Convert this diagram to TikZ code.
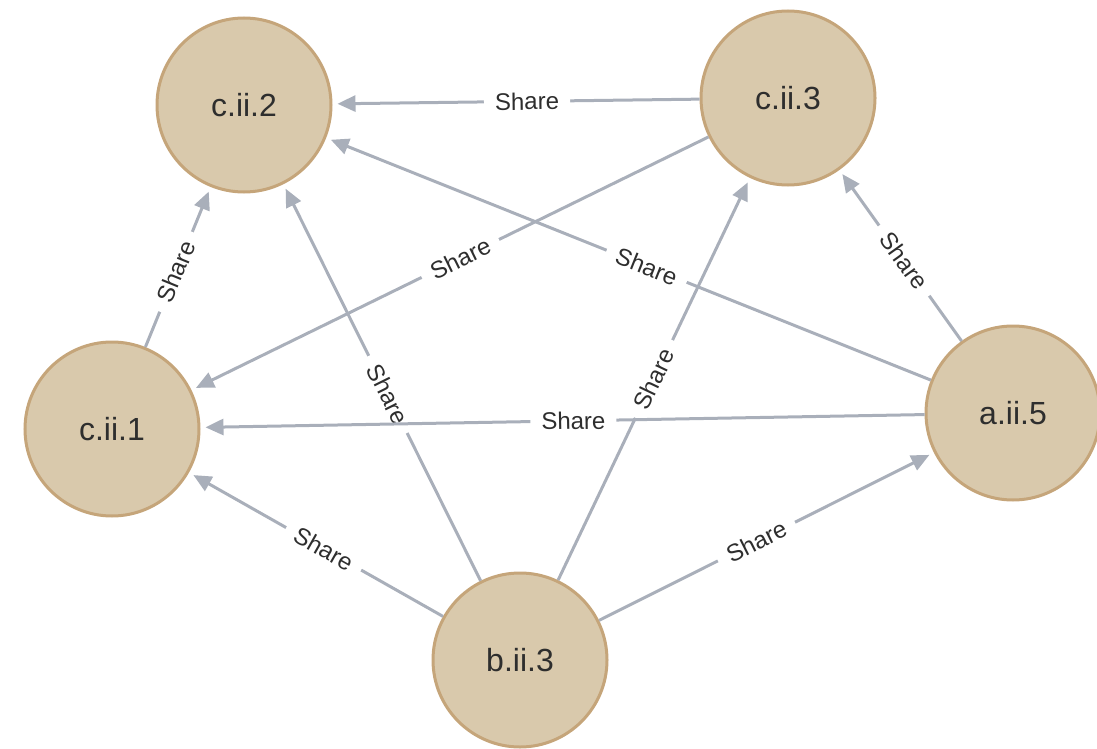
\documentclass[tikz,border=0pt]{standalone}
\usepackage{fontspec}
\setmainfont{Liberation Sans}
\usetikzlibrary{arrows.meta}
\definecolor{nodefill}{HTML}{D9C9AC}
\definecolor{nodeline}{HTML}{C5A57A}
\definecolor{edgecol}{HTML}{A9AFBA}
\definecolor{textcol}{HTML}{2E2E2E}
\begin{document}
\begin{tikzpicture}[x=1pt,y=-1pt,
  person/.style={circle, minimum size=174pt, inner sep=0pt, fill=nodefill,
    draw=nodeline, line width=3pt, text=textcol,
    font=\fontsize{32}{32}\selectfont},
  share/.style={-{Triangle[length=18pt,width=16pt]}, draw=edgecol,
    line width=3pt, shorten >=5pt},
  lbl/.style={fill=white, text=textcol, font=\fontsize{24}{24}\selectfont,
    inner xsep=11pt, inner ysep=1pt, sloped, pos=0.47}
]
\useasboundingbox (0,0) rectangle (1097,749);

% people
\node[person] (c2) at (244,105) {c.ii.2};
\node[person] (c3) at (788,98) {c.ii.3};
\node[person] (c1) at (112,429) {c.ii.1};
\node[person] (a5) at (1013,413) {a.ii.5};
\node[person] (b3) at (520,660) {b.ii.3};

% shares
\draw[share] (c3) -- node[lbl] {Share} (c2);
\draw[share] (c3) -- node[lbl, pos=0.48] {Share} (c1);
\draw[share] (a5) -- node[lbl] {Share} (c2);
\draw[share] (a5) -- node[lbl] {Share} (c3);
\draw[share] (c1) -- node[lbl] {Share} (c2);
\draw[share] (b3) -- node[lbl] {Share} (c2);
\draw[share] (b3) -- node[lbl, pos=0.5] {Share} (c3);
\draw[share] (a5) -- node[lbl, pos=0.485] {Share} (c1);
\draw[share] (b3) -- node[lbl] {Share} (c1);
\draw[share] (b3) -- node[lbl] {Share} (a5);
\end{tikzpicture}
\end{document}
